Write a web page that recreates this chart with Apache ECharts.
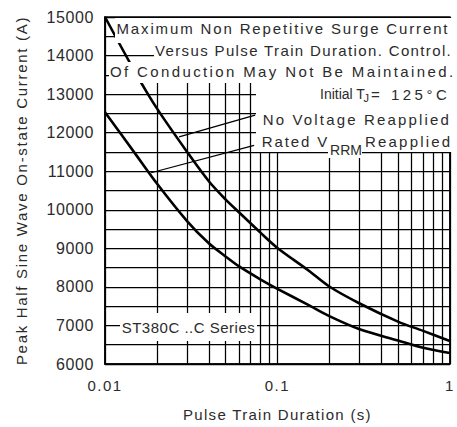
<!DOCTYPE html>
<html><head><meta charset="utf-8">
<script src="https://cdn.jsdelivr.net/npm/echarts@6/dist/echarts.min.js"></script>
<style>
html,body{margin:0;padding:0;background:#fff;}
#main{width:457px;height:427px;}
</style>
</head><body><div id="main"></div>
<script>
// ---------- data ----------
const durNoVoltage = [0.01, 0.015, 0.02, 0.03, 0.04, 0.05, 0.06, 0.08, 0.1, 0.15, 0.2, 0.3, 0.5, 0.7, 1.0];
const ampNoVoltage = [15000, 13560, 12630, 11495, 10740, 10270, 9930, 9400, 9010, 8440, 8010, 7570, 7100, 6860, 6595];
const durRatedV = [0.01, 0.015, 0.02, 0.03, 0.04, 0.05, 0.06, 0.08, 0.1, 0.15, 0.2, 0.3, 0.5, 0.7, 1.0];
const ampRatedV = [12530, 11450, 10680, 9700, 9130, 8790, 8530, 8190, 7950, 7540, 7240, 6900, 6610, 6420, 6285];
const xTickLabels = ['0.01', '0.1', '1'];
const yTickValues = [6000, 7000, 8000, 9000, 10000, 11000, 12000, 13000, 14000, 15000];
const minorDurations = [0.02,0.03,0.04,0.05,0.06,0.07,0.08,0.09,0.2,0.3,0.4,0.5,0.6,0.7,0.8,0.9];
// leader lines: [from (duration, current), to (duration, current)]
const leaderNoVoltage = [[0.0743, 12454], [0.0269, 11890]];
const leaderRatedV = [[0.0733, 11670], [0.0185, 10960]];

// ---------- letter spacing helper (svg) ----------
const spacings = {};
function fam(sp) {
  const key = 'ls' + Math.round(sp * 100) + 'z';
  spacings[key] = sp;
  return '"Liberation Sans", ' + key;
}
const TXT = '#2b2b2b';

const chart = echarts.init(document.getElementById('main'), null, {renderer: 'svg', width: 457, height: 427});

function tText(x, y, text, size, sp) {
  return {type: 'text', x: x, y: y, z: 11, silent: true,
    style: {text: text, font: size + 'px ' + fam(sp), fill: TXT, align: 'left', verticalAlign: 'middle'}};
}
function wRect(x, y, w, h) {
  return {type: 'rect', z: 10, silent: true, shape: {x: x, y: y, width: w, height: h}, style: {fill: '#fff'}};
}

const option = {
  animation: false,
  backgroundColor: '#fff',
  grid: {left: 105, right: 2.5, top: 17, bottom: 60, show: true, borderColor: '#000', borderWidth: 1.5, backgroundColor: 'transparent'},
  xAxis: {
    type: 'log', logBase: 10, min: 0.01, max: 1,
    axisLine: {show: true, lineStyle: {color: '#000', width: 1.5}},
    axisTick: {show: false},
    axisLabel: {fontSize: 15, color: TXT, fontFamily: fam(1.5), margin: 14,
      formatter: function (v) { const s = String(parseFloat(Number(v).toPrecision(6))); return xTickLabels.indexOf(s) >= 0 ? s : ''; }},
    splitLine: {show: true, lineStyle: {color: '#000', width: 1.25}},
    name: 'Pulse Train Duration (s)', nameLocation: 'middle', nameGap: 43,
    nameTextStyle: {fontSize: 15, color: TXT, fontFamily: fam(1.3)}
  },
  yAxis: {
    type: 'value', min: 6000, max: 15000, interval: 500,
    axisLine: {show: true, lineStyle: {color: '#000', width: 1.5}},
    axisTick: {show: false},
    axisLabel: {fontSize: 16, color: TXT, fontFamily: fam(0.6), margin: 11,
      formatter: function (v) { return yTickValues.indexOf(v) >= 0 ? String(v) : ''; }},
    splitLine: {show: true, lineStyle: {color: '#000', width: 1.25}},
    name: 'Peak Half Sine Wave On-state Current (A)', nameLocation: 'middle', nameGap: 76,
    nameTextStyle: {fontSize: 15, color: TXT, fontFamily: fam(1.7)}
  },
  series: [
    {
      type: 'line', name: 'No Voltage Reapplied', smooth: 0.3, showSymbol: false, clip: true,
      data: durNoVoltage.map((d, i) => [d, ampNoVoltage[i]]),
      lineStyle: {color: '#000', width: 2.6},
      markLine: {
        silent: true, symbol: ['none', 'none'], label: {show: false},
        lineStyle: {type: 'solid', color: '#000', width: 1.25},
        data: minorDurations.map(d => ({xAxis: d})).concat([
          [{coord: leaderNoVoltage[0]}, {coord: leaderNoVoltage[1]}],
          [{coord: leaderRatedV[0]}, {coord: leaderRatedV[1]}]
        ])
      }
    },
    {
      type: 'line', name: 'Rated VRRM Reapplied', smooth: 0.3, showSymbol: false, clip: true,
      data: durRatedV.map((d, i) => [d, ampRatedV[i]]),
      lineStyle: {color: '#000', width: 2.6}
    }
  ],
  graphic: [
    wRect(115, 18, 338.5, 25),
    wRect(154, 43, 299.5, 19),
    wRect(109, 62, 344.5, 21),
    wRect(256, 83, 197.5, 69),
    wRect(328, 143, 34, 15),
    wRect(120, 313, 137, 28),
    tText(116.5, 28, 'Maximum Non Repetitive Surge Current', 15, 1.86),
    tText(155, 50, 'Versus Pulse Train Duration. Control.', 15, 1.36),
    tText(110, 71, 'Of Conduction May Not Be Maintained.', 15, 2.37),
    tText(320, 94, 'Initial T', 14, 0),
    tText(363.5, 98, 'J', 11, 0.01),
    tText(371, 94, '= 125°C', 15, 3.5),
    tText(262.7, 119, 'No Voltage Reapplied', 15, 2.16),
    tText(261.7, 141, 'Rated V', 15, 1.9),
    tText(330, 149.5, 'RRM', 14, 0.02),
    tText(365, 141, 'Reapplied', 15, 2.2),
    tText(121.7, 327, 'ST380C ..C Series', 15, 0.5)
  ]
};
chart.setOption(option);

// letter-spacing rules for svg text, keyed by the marker family names
let css = '';
Object.keys(spacings).forEach(k => {
  css += 'text[style*="' + k + '"], text[font-family*="' + k + '"] { letter-spacing: ' + spacings[k] + 'px; }\n';
});
const st = document.createElement('style');
st.textContent = css;
document.head.appendChild(st);
</script>
</body></html>
